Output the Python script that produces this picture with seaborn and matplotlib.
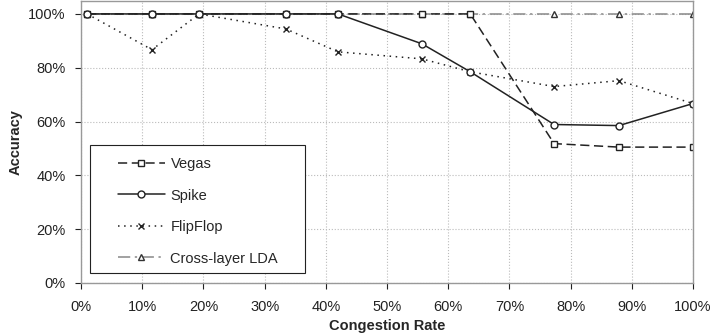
import matplotlib.pyplot as plt
import seaborn as sns
import pandas as pd
from matplotlib.patches import Rectangle
from matplotlib.ticker import PercentFormatter

# congestion rate (%) and accuracy (%)
rate = [1, 11.6, 19.3, 33.5, 42, 55.7, 63.6, 77.3, 87.9, 100]
vegas = [100, 100, 100, 100, 100, 100, 100, 51.8, 50.5, 50.5]
spike = [100, 100, 100, 100, 100, 88.9, 78.5, 58.9, 58.5, 66.7]
flipflop = [100, 86.7, 100, 94.4, 85.9, 83.3, 78.5, 73.0, 75.2, 66.7]
lda = [100, 100, 100, 100, 100, 100, 100, 100, 100, 100]

sns.set_theme(style="white")
plt.rcParams['font.family'] = ['Liberation Sans', 'DejaVu Sans']

W, H = 713, 335
fig = plt.figure(figsize=(W / 100, H / 100), dpi=100)
ax = fig.add_axes([81 / W, 1 - 283 / H, 612 / W, 282 / H])

df = pd.DataFrame({"rate": rate, "Vegas": vegas, "Spike": spike,
                   "FlipFlop": flipflop, "Cross-layer LDA": lda})

styles = {
    "Cross-layer LDA": dict(color="#888888", linestyle=(0, (8, 3, 1.5, 3)), marker="^",
                            markerfacecolor="white", markeredgecolor="#333333"),
    "Vegas": dict(color="#222222", linestyle=(0, (6, 3)), marker="s",
                  markerfacecolor="white", markeredgecolor="#222222"),
    "Spike": dict(color="#222222", linestyle="-", marker="o",
                  markerfacecolor="white", markeredgecolor="#222222"),
    "FlipFlop": dict(color="#222222", linestyle=(0, (1, 3)), marker="x",
                     markeredgecolor="#222222"),
}
order = ["Vegas", "Spike", "FlipFlop", "Cross-layer LDA"]
for name in ["Cross-layer LDA", "Vegas", "FlipFlop", "Spike"]:
    sns.lineplot(data=df, x="rate", y=name, ax=ax, label=name,
                 linewidth=1.1, markersize=5, markeredgewidth=1.0, **styles[name])

ax.set_xlim(0, 100)
ax.set_ylim(0, 104.8)
ax.set_xticks(range(0, 101, 10))
ax.set_yticks(range(0, 101, 20))
ax.xaxis.set_major_formatter(PercentFormatter(decimals=0))
ax.yaxis.set_major_formatter(PercentFormatter(decimals=0))
ax.tick_params(axis="both", labelsize=10.5, colors="#222222", length=4, width=0.8,
               direction="out", bottom=True, left=True)
ax.tick_params(axis="x", pad=8)
ax.tick_params(axis="y", pad=7)
ax.grid(True, color="#bbbbbb", linestyle=":", linewidth=0.8)
for s in ax.spines.values():
    s.set_color("#999999")
    s.set_linewidth(1.0)

ax.set_xlabel("Congestion Rate", fontsize=10.5, fontweight="bold", labelpad=4)
ax.set_ylabel("Accuracy", fontsize=10.5, fontweight="bold", labelpad=4)

# legend box drawn separately so that its padding matches the original
ax.add_patch(Rectangle((90 / W, 1 - 273 / H), 215 / W, 128 / H, transform=fig.transFigure,
                       facecolor="white", edgecolor="#222222", linewidth=0.8,
                       zorder=4.5, clip_on=False))
handles, labels = ax.get_legend_handles_labels()
hmap = dict(zip(labels, handles))
leg = ax.legend([hmap[n] for n in order], order, loc="upper left",
                bbox_to_anchor=(118 / W, 1 - 157 / H), bbox_transform=fig.transFigure,
                fontsize=10.5, frameon=False, handlelength=3.2,
                labelspacing=1.2, borderpad=0, handletextpad=0.4, borderaxespad=0)

fig.savefig("out.png", dpi=100)
